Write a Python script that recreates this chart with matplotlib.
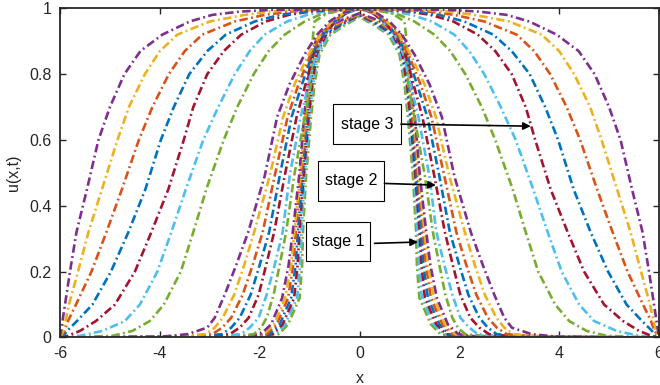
import numpy as np
import matplotlib
matplotlib.use("Agg")
import matplotlib.pyplot as plt
from matplotlib.patches import Rectangle

plt.rcParams["font.family"] = ["Liberation Sans", "DejaVu Sans"]
plt.rcParams["axes.unicode_minus"] = False

# MATLAB default colours, ordered from the narrowest to the widest profile of each stage
colors = ["#77AC30", "#4DBEEE", "#A2142F", "#0072BD", "#D95319", "#EDB120", "#7E2F8E"]

# --- stage 1: |x| at which each profile crosses the given u level ---
stage1_levels = [0, 0.002, 0.01, 0.04, 0.12, 0.22, 0.33, 0.49, 0.67, 0.77, 0.86, 0.92, 0.95, 0.965]
stage1_halfx = [
    [6.0, 2.00, 1.62, 1.43, 1.20, 1.15, 1.13, 1.07, 0.97, 0.90, 0.80, 0.58, 0.28, 0.10],
    [6.0, 2.07, 1.68, 1.49, 1.25, 1.19, 1.16, 1.10, 1.00, 0.93, 0.83, 0.62, 0.32, 0.14],
    [6.0, 2.13, 1.74, 1.54, 1.31, 1.24, 1.20, 1.12, 1.02, 0.95, 0.86, 0.67, 0.37, 0.19],
    [6.0, 2.20, 1.80, 1.60, 1.37, 1.28, 1.23, 1.14, 1.05, 0.98, 0.89, 0.71, 0.41, 0.23],
    [6.0, 2.27, 1.86, 1.66, 1.43, 1.33, 1.27, 1.17, 1.07, 1.00, 0.92, 0.75, 0.46, 0.27],
    [6.0, 2.33, 1.92, 1.71, 1.49, 1.37, 1.30, 1.19, 1.09, 1.02, 0.94, 0.79, 0.50, 0.31],
    [6.0, 2.40, 1.98, 1.77, 1.55, 1.42, 1.33, 1.21, 1.11, 1.04, 0.97, 0.83, 0.55, 0.35],
]
stage1_peak = [0.975, 0.977, 0.978, 0.980, 0.982, 0.983, 0.985]

# --- stage 2 ---
stage2_levels = [0, 0.002, 0.01, 0.03, 0.06, 0.13, 0.22, 0.32, 0.49, 0.67, 0.77, 0.86, 0.92, 0.96, 0.985, 0.995]
stage2_halfx = [
    [6.0, 2.7, 2.12, 1.97, 1.86, 1.72, 1.60, 1.47, 1.31, 1.10, 0.97, 0.95, 0.93, 0.90, 0.65, 0.30],
    [6.0, 3.0, 2.37, 2.20, 2.02, 1.86, 1.70, 1.54, 1.40, 1.18, 1.02, 0.88, 0.70, 0.47, 0.26, 0.10],
    [6.0, 3.2, 2.60, 2.40, 2.22, 2.02, 1.87, 1.71, 1.50, 1.26, 1.08, 0.92, 0.72, 0.48, 0.27, 0.10],
    [6.0, 3.4, 2.75, 2.57, 2.40, 2.18, 2.00, 1.81, 1.60, 1.36, 1.15, 0.95, 0.74, 0.50, 0.28, 0.10],
    [6.0, 3.6, 2.95, 2.75, 2.57, 2.34, 2.14, 1.94, 1.70, 1.44, 1.22, 0.98, 0.76, 0.52, 0.30, 0.10],
    [6.0, 3.8, 3.08, 2.90, 2.74, 2.51, 2.31, 2.11, 1.80, 1.53, 1.30, 1.02, 0.80, 0.55, 0.32, 0.12],
    [6.0, 4.0, 3.45, 3.05, 2.90, 2.70, 2.47, 2.23, 1.90, 1.65, 1.40, 1.10, 0.85, 0.60, 0.35, 0.15],
]
stage2_peak = [0.998] * 7

# --- stage 3 ---
stage3_levels = [0, 0.005, 0.02, 0.05, 0.1, 0.2, 0.32, 0.45, 0.6, 0.7, 0.8, 0.87, 0.92, 0.96, 0.98, 0.99, 0.995]
stage3_halfx = [
    [6.0, 4.95, 4.55, 4.20, 3.92, 3.58, 3.33, 3.07, 2.72, 2.45, 2.12, 1.82, 1.50, 1.10, 0.80, 0.50, 0.30],
    [6.0, 5.60, 5.15, 4.70, 4.40, 4.05, 3.77, 3.48, 3.13, 2.83, 2.50, 2.20, 1.90, 1.45, 1.05, 0.70, 0.40],
    [6.0, 5.85, 5.60, 5.28, 4.90, 4.50, 4.17, 3.83, 3.52, 3.33, 3.05, 2.72, 2.37, 1.88, 1.42, 1.00, 0.60],
    [6.0, 5.93, 5.86, 5.66, 5.35, 4.98, 4.63, 4.29, 3.98, 3.72, 3.41, 3.05, 2.68, 2.10, 1.60, 1.10, 0.70],
    [6.0, 5.98, 5.91, 5.84, 5.68, 5.37, 5.07, 4.76, 4.42, 4.15, 3.82, 3.50, 3.15, 2.50, 1.90, 1.40, 1.00],
    [6.0, 5.98, 5.94, 5.89, 5.82, 5.64, 5.43, 5.16, 4.85, 4.62, 4.30, 4.00, 3.65, 3.00, 2.30, 1.80, 1.30],
    [6.0, 5.995, 5.98, 5.95, 5.90, 5.80, 5.67, 5.46, 5.23, 5.00, 4.71, 4.39, 3.95, 3.40, 2.95, 2.40, 1.80],
]
stage3_peak = [0.998] * 7

xticks = [-6, -4, -2, 0, 2, 4, 6]
yticks = [0, 0.2, 0.4, 0.6, 0.8, 1]
ytick_labels = ["0", "0.2", "0.4", "0.6", "0.8", "1"]


def profile(levels, halfx, peak):
    # symmetric profile: left flank, centre, right flank
    hx = np.array(halfx)
    lv = np.array(levels)
    x = np.concatenate([-hx, [0.0], hx[::-1]])
    u = np.concatenate([lv, [peak], lv[::-1]])
    return x, u


fig = plt.figure(figsize=(6.6, 3.85), dpi=100)
ax = fig.add_axes([0.0909, 0.1234, 0.9076, 0.855])

dash = (0, (3.2, 1.3, 0.7, 1.3))
for levels, table, peaks in [(stage1_levels, stage1_halfx, stage1_peak),
                             (stage2_levels, stage2_halfx, stage2_peak),
                             (stage3_levels, stage3_halfx, stage3_peak)]:
    for i in range(7):
        x, u = profile(levels, table[i], peaks[i])
        ax.plot(x, u, color=colors[i], lw=1.9, linestyle=dash)

ax.set_xlim(-6, 6)
ax.set_ylim(0, 1)
ax.set_xticks(xticks)
ax.set_xticklabels([str(t) for t in xticks])
ax.set_yticks(yticks)
ax.set_yticklabels(ytick_labels)
ax.tick_params(direction="in", top=True, right=True, length=4, width=1.0,
               labelsize=11.5, colors="#262626", pad=6)
for sp in ax.spines.values():
    sp.set_linewidth(1.3)
    sp.set_color("#262626")
ax.set_xlabel("x", fontsize=11.5, color="#262626", labelpad=7)
ax.set_ylabel("u(x,t)", fontsize=11.5, color="#262626", labelpad=6)

# text-arrow annotations
boxes = [("stage 3", (-0.54, 0.587, 1.38, 0.122), (0.83, 0.648), (3.43, 0.642)),
         ("stage 2", (-0.84, 0.414, 1.34, 0.123), (0.50, 0.468), (1.53, 0.463)),
         ("stage 1", (-1.08, 0.232, 1.30, 0.119), (0.30, 0.286), (1.17, 0.290))]
for label, (bx, by, bw, bh), tail, head in boxes:
    ax.add_patch(Rectangle((bx, by), bw, bh, facecolor="white", edgecolor="black",
                           lw=0.8, zorder=5))
    ax.text(bx + bw / 2, by + bh / 2, label, ha="center", va="center",
            fontsize=11.5, color="black", zorder=6)
    ax.annotate("", xy=head, xytext=tail, zorder=7,
                arrowprops=dict(arrowstyle="-|>", color="black", lw=1.2,
                                mutation_scale=11, shrinkA=0, shrinkB=0))

fig.savefig("out.png", dpi=100)
